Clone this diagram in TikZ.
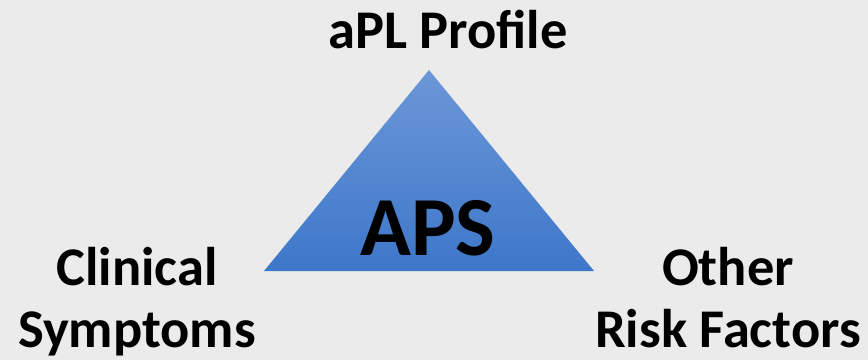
\documentclass[tikz,border=0pt]{standalone}
\usepackage{fontspec}
\setmainfont{Carlito}
\begin{document}
\begin{tikzpicture}[x=1pt,y=-1pt,
  lbl/.style={font=\fontsize{54.5}{62}\selectfont\bfseries, align=center, inner sep=0pt, anchor=base}]
\fill[fill={rgb,255:red,235;green,235;blue,235}] (0,0) rectangle (868,360);
\useasboundingbox (0,0) rectangle (868,360);
\definecolor{toptri}{RGB}{108,151,215}
\definecolor{bottri}{RGB}{61,119,201}
\coordinate (apex) at (429,70);
\coordinate (bl) at (264,271);
\coordinate (br) at (594,271);
\shade[top color=toptri, bottom color=bottri] (apex) -- (bl) -- (br) -- cycle;
\node[lbl] (apl) at (448,48) {aPL Profile};
\node[font=\fontsize{84}{90}\selectfont\bfseries, inner sep=0pt, anchor=base] (aps) at (428,255) {APS};
\node[lbl] (clin) at (137,347) {Clinical\\Symptoms};
\node[lbl] (other) at (728,347) {Other\\Risk Factors};
\end{tikzpicture}
\end{document}
